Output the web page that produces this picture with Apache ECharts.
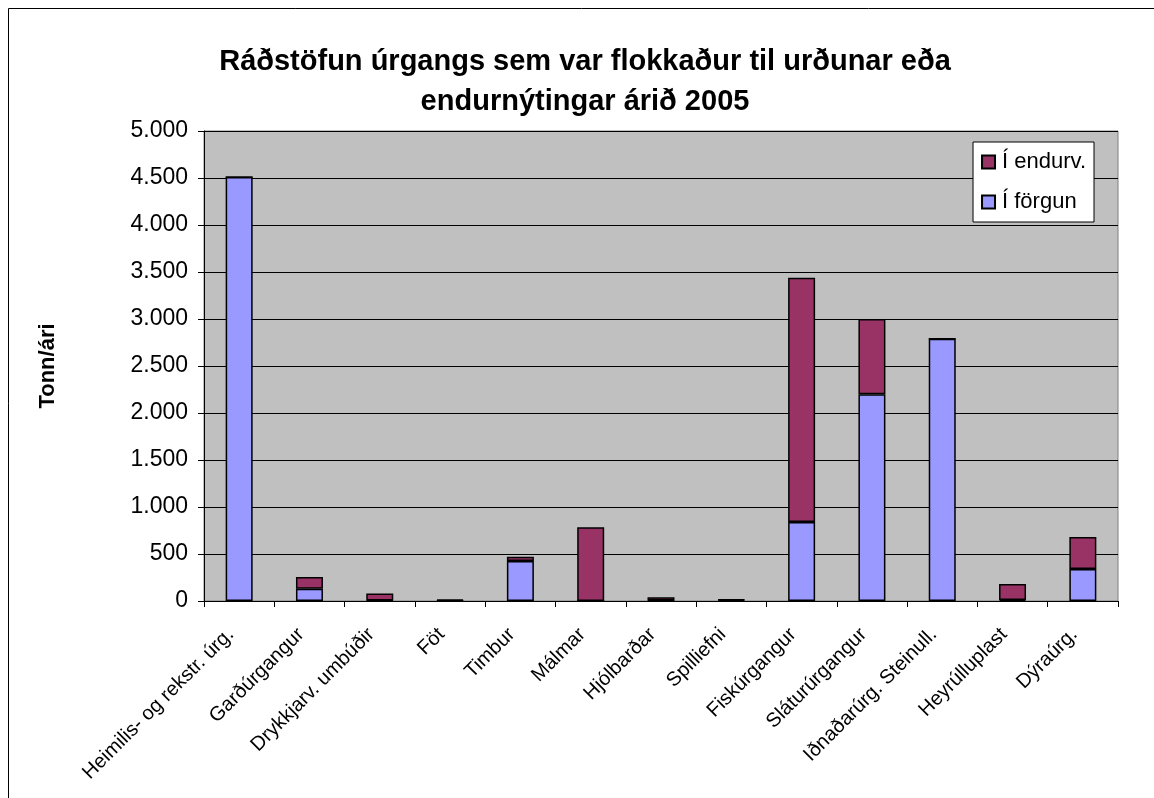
<!DOCTYPE html>
<html lang="is">
<head>
    <meta charset="UTF-8">
    <script type="text/javascript" src="https://cdn.jsdelivr.net/npm/echarts@6/dist/echarts.min.js"></script>
    <title>Ráðstöfun úrgangs 2005</title>
    <style>
        html, body { margin: 0; padding: 0; background: #fff; }
        #main { width: 1154px; height: 798px; }
    </style>
</head>
<body>
<div id="main"></div>
<script type="text/javascript">

    // flokkar (x-ás)
    var categories = ['Heimilis- og rekstr. úrg.', 'Garðúrgangur', 'Drykkjarv. umbúðir', 'Föt', 'Timbur',
        'Málmar', 'Hjólbarðar', 'Spilliefni', 'Fiskúrgangur', 'Sláturúrgangur',
        'Iðnaðarúrg. Steinull.', 'Heyrúlluplast', 'Dýraúrg.']

    // tonn á ári, lesið af myndinni
    var forgun = [4510, 130, 5, 5, 425, 0, 5, 10, 840, 2200, 2790, 10, 340]
    var endurv = [0, 125, 75, 10, 45, 785, 35, 5, 2600, 800, 0, 170, 340]

    var yTicks = [0, 500, 1000, 1500, 2000, 2500, 3000, 3500, 4000, 4500, 5000]

    var font = 'Arial, "Liberation Sans", sans-serif'

    function fmt(v) {
        return String(v).replace(/\B(?=(\d{3})+(?!\d))/g, '.')
    }

    var myChart = echarts.init(document.getElementById('main'));

    option = {
        backgroundColor: '#fff',
        animation: false,
        title: {
            text: 'Ráðstöfun úrgangs sem var flokkaður til urðunar eða\nendurnýtingar árið 2005',
            left: 580,
            top: 37,
            textAlign: 'center',
            textStyle: {
                fontFamily: font,
                fontSize: 29,
                fontWeight: 'bold',
                color: '#000',
                lineHeight: 40
            }
        },
        graphic: [{
            type: 'rect',
            shape: {x: 8.5, y: 8.5, width: 1170, height: 820},
            style: {fill: 'none', stroke: '#000', lineWidth: 1}
        }],
        legend: {
            orient: 'vertical',
            right: 60,
            top: 142,
            backgroundColor: '#fff',
            borderColor: '#000',
            borderWidth: 1,
            borderRadius: 0,
            padding: [9, 8, 9, 8],
            icon: 'rect',
            itemWidth: 13,
            itemHeight: 13,
            itemGap: 18,
            data: ['Í endurv.', 'Í förgun'],
            textStyle: {fontFamily: font, fontSize: 22, color: '#000', padding: [0, 0, 0, 2]}
        },
        grid: {
            left: 204,
            right: 36,
            top: 131,
            bottom: 197,
            show: true,
            backgroundColor: '#c0c0c0',
            borderColor: '#808080',
            borderWidth: 1
        },
        xAxis: {
            type: 'category',
            data: categories,
            axisLine: {lineStyle: {color: '#000', width: 1}},
            axisTick: {show: true, alignWithLabel: false, length: 6, lineStyle: {color: '#000'}},
            axisLabel: {
                interval: 0,
                rotate: 45,
                margin: 22,
                padding: [0, 12, 0, 0],
                fontFamily: font,
                fontSize: 20,
                color: '#000'
            }
        },
        yAxis: {
            type: 'value',
            min: 0,
            max: 5000,
            interval: 500,
            name: 'Tonn/ári',
            nameLocation: 'middle',
            nameGap: 145,
            nameRotate: 90,
            nameTextStyle: {fontFamily: font, fontSize: 22, fontWeight: 'bold', color: '#000'},
            axisLine: {show: true, lineStyle: {color: '#000', width: 1}},
            axisTick: {show: true, inside: false, length: 6, lineStyle: {color: '#000'}},
            axisLabel: {
                fontFamily: font,
                fontSize: 23,
                color: '#000',
                margin: 16,
                formatter: function (v) {
                    return yTicks.indexOf(v) >= 0 ? fmt(v) : ''
                }
            },
            splitLine: {lineStyle: {color: '#000', width: 1}}
        },
        series: [
            {
                name: 'Í förgun',
                type: 'bar',
                stack: 'total',
                barWidth: 27,
                itemStyle: {color: '#9999ff', borderColor: '#000', borderWidth: 1.5},
                data: forgun
            },
            {
                name: 'Í endurv.',
                type: 'bar',
                stack: 'total',
                barWidth: 27,
                itemStyle: {color: '#993366', borderColor: '#000', borderWidth: 1.5},
                data: endurv
            }
        ]
    };
    myChart.setOption(option)
</script>
</body>
</html>
